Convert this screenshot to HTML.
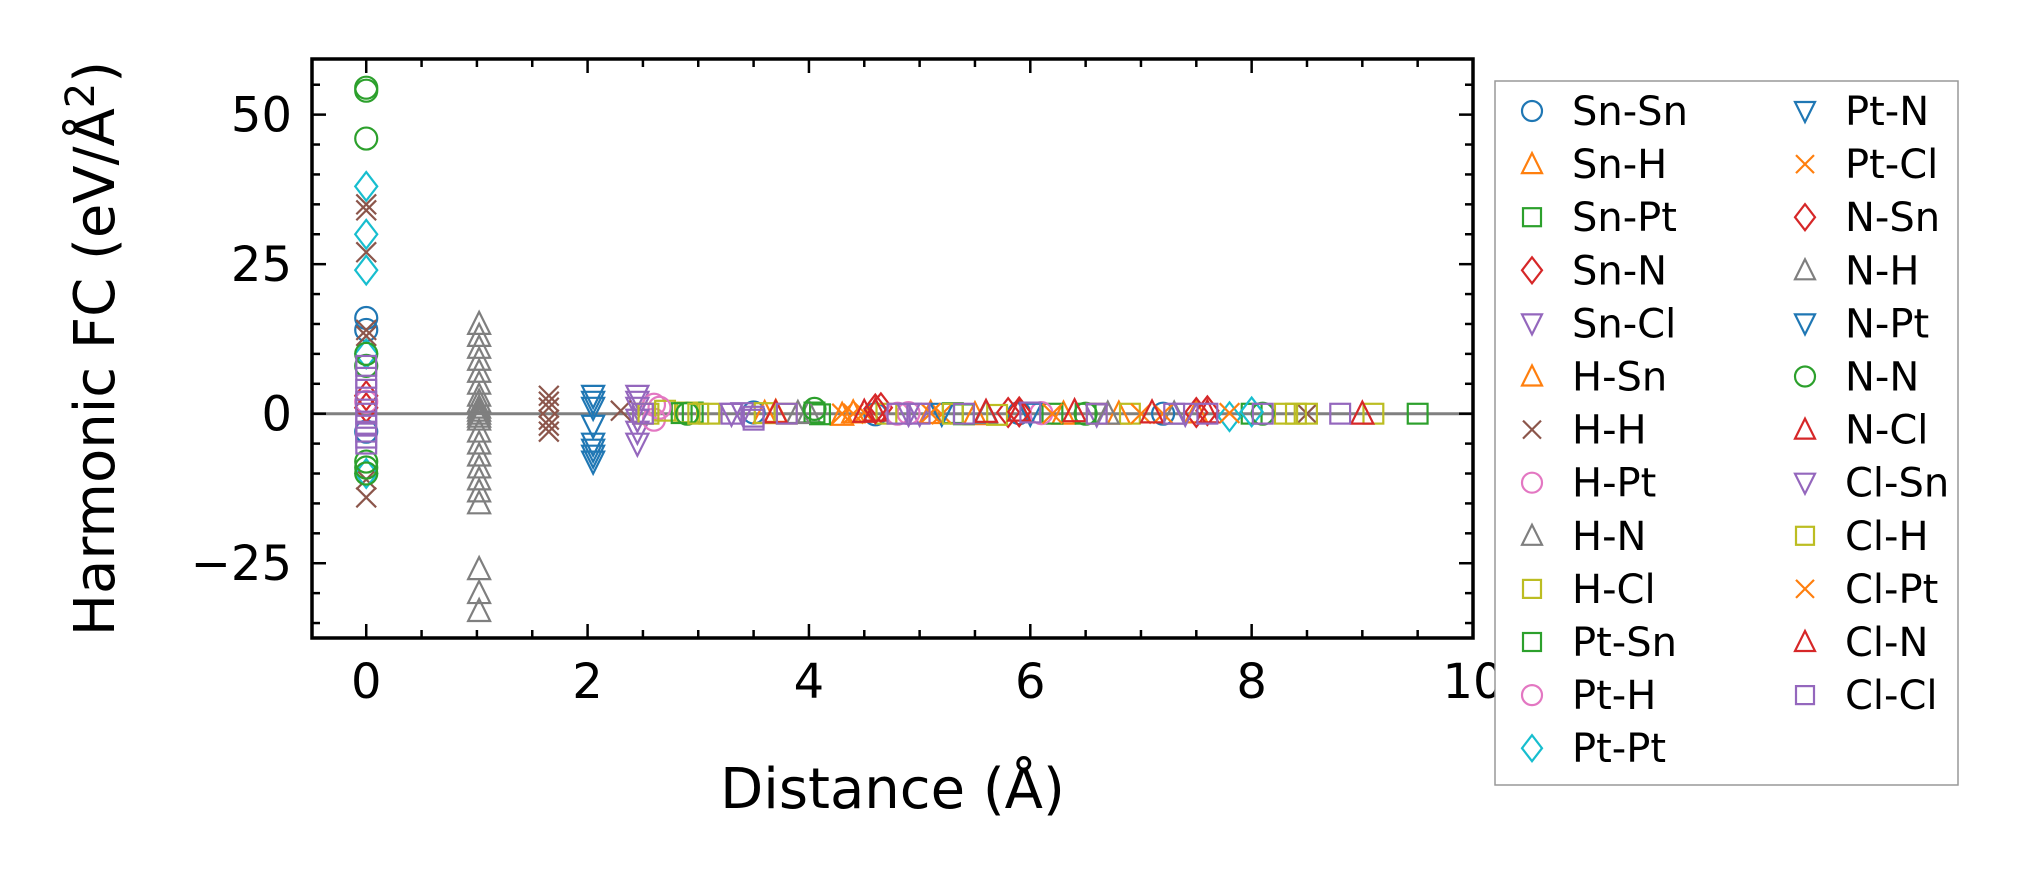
<!DOCTYPE html>
<html><head><meta charset="utf-8">
<style>
html,body{margin:0;padding:0;background:#fff;}
svg{display:block;font-family:"DejaVu Sans","Liberation Sans",sans-serif;}
</style></head>
<body>
<svg id="chart" width="2017" height="883" viewBox="0 0 2017 883" xmlns="http://www.w3.org/2000/svg">
<g id="plot"></g>
<g id="axes"></g>
<g id="legend"></g>
</svg>
<script>
const xTicks = [0, 2, 4, 6, 8, 10];
const yTicks = [-25, 0, 25, 50];
const seriesNames = ["Sn-Sn","Sn-H","Sn-Pt","Sn-N","Sn-Cl","H-Sn","H-H","H-Pt","H-N","H-Cl","Pt-Sn","Pt-H","Pt-Pt","Pt-N","Pt-Cl","N-Sn","N-H","N-Pt","N-N","N-Cl","Cl-Sn","Cl-H","Cl-Pt","Cl-N","Cl-Cl"];
const seriesColors = ["#1f77b4","#ff7f0e","#2ca02c","#d62728","#9467bd","#ff7f0e","#8c564b","#e377c2","#7f7f7f","#bcbd22","#2ca02c","#e377c2","#17becf","#1f77b4","#ff7f0e","#d62728","#7f7f7f","#1f77b4","#2ca02c","#d62728","#9467bd","#bcbd22","#ff7f0e","#d62728","#9467bd"];
const seriesMarkers = ["o","^","s","D","v","^","x","o","^","s","s","o","D","v","x","D","^","v","o","^","v","s","x","^","s"];
// distances per series
const seriesX = [
 [0,0,0,3.5,4.6,5.9,7.2],
 [3.7,4.3,5.1,6.3,7.5],
 [2.95,4.1,5.3,6.2,9.5],
 [0,4.65,5.8,7.6],
 [2.45,2.45,2.45,2.45,3.4,5.0,6.6],
 [3.6,4.4,5.5,6.8],
 [0,0,0,0,0,0,0,1.65,1.65,1.65,1.65,1.65,1.65,2.3,8.5],
 [2.6,2.6,4.9],
 [1.02,1.02,1.02,1.02,1.02,1.02,1.02,1.02,1.02,1.02,1.02,1.02,1.02,1.02,1.02,1.02,1.02,1.02,1.02,1.02,4.0,5.6,7.3],
 [2.5,2.7,2.9,3.1,3.6,4.7,5.7,6.9,8.3,8.5,9.1],
 [2.85,4.05,5.4,6.5,8.0],
 [0,2.65,4.8,6.1],
 [0,0,0,0,0,7.8,8.0],
 [2.05,2.05,2.05,2.05,2.05,2.05,6.0],
 [4.3,4.5,5.2,7.0,7.8],
 [0,4.6,5.9,7.5],
 [1.02,1.02,1.02,3.9,6.7],
 [2.05,2.05,5.2],
 [0,0,0,0,0,0,0,0,2.9,4.05,6.5,8.1],
 [4.6,5.6,6.4,7.6],
 [2.45,2.45,3.3,4.9,7.4],
 [2.55,3.0,3.8,5.3,6.6,8.4],
 [4.4,5.1,6.2,7.2],
 [3.7,4.5,5.9,7.1,9.0],
 [0,0,0,0,0,0,0,0,0,2.5,3.3,3.5,3.5,3.8,4.8,5.0,5.4,6.0,6.6,7.3,7.6,8.1,8.8]
];
// harmonic FC values per series (eV/Å²)
const seriesY = [
 [16,14,-3,0.2,-0.1,0.1,0],
 [0.3,-0.2,0.1,0,0.2],
 [0.2,-0.1,0.1,0,0],
 [3,1,0.2,0.5],
 [3,2,-3,-5,0.1,0,-0.1],
 [0.1,0.2,-0.1,0],
 [35,34,27,14,13,-14,-11,3,2,1,-1,-2,-3,0.5,0],
 [1.5,-1,0.1],
 [15,13,11,9,7,5,3,1,-1,-3,-5,-7,-9,-11,-13,-15,-26,-30,-33,0,0.2,0.1,0],
 [0,0.5,0.2,0,0.1,0,-0.2,0,0,0,0],
 [0.1,0.2,-0.1,0,0],
 [2,1,0,0.1],
 [38,30,24,10,-10,-0.5,0.3],
 [3,2,-2,-5,-7,-8,0],
 [0,0.2,-0.1,0,0.1],
 [1,0.8,0.3,0.2],
 [0.5,-0.5,2,0.1,0],
 [-6,1,0],
 [54,54.5,46,10,8,-8,-9,-10,0,0.8,0,0],
 [0.5,0.3,0.4,0.2],
 [1,-1,0,0,0],
 [0,0,0,0,0,0],
 [0,0.1,0,0],
 [0.2,0.3,0.5,0.2,0],
 [8,6,4,2,0,-2,-4,-5,-3,0,0,-0.5,-1,0,0,0,0,0.2,0,0,0,0,0]
];

const NS = "http://www.w3.org/2000/svg";
const L = 312, R = 1473, T = 59, B = 638;
const X0 = -0.49, X1 = 10, Y0 = -37.5, Y1 = 59.3;
const xs = v => L + (v - X0) / (X1 - X0) * (R - L);
const ys = v => B - (v - Y0) / (Y1 - Y0) * (B - T);
function mk(tag, attrs, parent) {
  const e = document.createElementNS(NS, tag);
  for (const k in attrs) e.setAttribute(k, attrs[k]);
  parent.appendChild(e);
  return e;
}
function marker(g, type, cx, cy, color, s) {
  const st = {fill:"none", stroke:color, "stroke-width":2.2};
  let e;
  if (type === "o") e = mk("circle", Object.assign({cx, cy, r:s*0.5}, st), g);
  else if (type === "s") e = mk("rect", Object.assign({x:cx-s*0.45, y:cy-s*0.45, width:s*0.9, height:s*0.9}, st), g);
  else if (type === "^") e = mk("polygon", Object.assign({points:`${cx},${cy-s*0.55} ${cx-s*0.5},${cy+s*0.45} ${cx+s*0.5},${cy+s*0.45}`}, st), g);
  else if (type === "v") e = mk("polygon", Object.assign({points:`${cx},${cy+s*0.55} ${cx-s*0.5},${cy-s*0.45} ${cx+s*0.5},${cy-s*0.45}`}, st), g);
  else if (type === "D") e = mk("polygon", Object.assign({points:`${cx},${cy-s*0.65} ${cx+s*0.5},${cy} ${cx},${cy+s*0.65} ${cx-s*0.5},${cy}`}, st), g);
  else { e = mk("path", Object.assign({d:`M${cx-s*0.45},${cy-s*0.45}L${cx+s*0.45},${cy+s*0.45}M${cx-s*0.45},${cy+s*0.45}L${cx+s*0.45},${cy-s*0.45}`}, st), g); }
  return e;
}
const plot = document.getElementById("plot");
const axes = document.getElementById("axes");
const legend = document.getElementById("legend");

const zl = mk("line", {x1:L, x2:R, y1:ys(0), y2:ys(0), stroke:"#808080", "stroke-width":3}, plot);



seriesNames.forEach((name, i) => {
  const g = mk("g", {}, plot);
  
  
  seriesX[i].forEach((x, j) => {
    const m = marker(g, seriesMarkers[i], xs(x), ys(seriesY[i][j]), seriesColors[i], 22);
    
    
  });
});

const fr = mk("rect", {x:L, y:T, width:R-L, height:B-T, fill:"none", stroke:"#000", "stroke-width":3.5}, axes);



for (let v = 0; v <= 10.001; v += 0.5) {
  const major = Math.abs(v - Math.round(v/2)*2) < 1e-6;
  const len = major ? 14 : 8;
  const x = xs(v);
  const t1 = mk("line", {x1:x, x2:x, y1:B, y2:B-len, stroke:"#000", "stroke-width":2.5}, axes);
  
  
  const t2 = mk("line", {x1:x, x2:x, y1:T, y2:T+len, stroke:"#000", "stroke-width":2.5}, axes);
  
  
}
xTicks.forEach(v => {
  const t = mk("text", {x:xs(v), y:B+60, "text-anchor":"middle", "font-size":48, fill:"#000"}, axes);
  t.textContent = String(v);
  
  
});
for (let v = -35; v <= 55; v += 5) {
  const major = v % 25 === 0;
  const len = major ? 14 : 8;
  const y = ys(v);
  const t1 = mk("line", {x1:L, x2:L+len, y1:y, y2:y, stroke:"#000", "stroke-width":2.5}, axes);
  
  
  const t2 = mk("line", {x1:R, x2:R-len, y1:y, y2:y, stroke:"#000", "stroke-width":2.5}, axes);
  
  
}
yTicks.forEach(v => {
  const t = mk("text", {x:L-20, y:ys(v)+17, "text-anchor":"end", "font-size":48, fill:"#000"}, axes);
  t.textContent = v < 0 ? "\u2212" + Math.abs(v) : String(v);
  
  
});
const xt = mk("text", {x:(L+R)/2, y:808, "text-anchor":"middle", "font-size":56, fill:"#000"}, axes);
xt.textContent = "Distance (Å)";


const yt = mk("text", {x:0, y:0, "text-anchor":"middle", "font-size":56, fill:"#000", transform:`translate(114,${(T+B)/2}) rotate(-90)`}, axes);
yt.innerHTML = 'Harmonic FC (eV/Å<tspan dy="-20" font-size="40">2</tspan><tspan dy="20">)</tspan>';



const lb = mk("rect", {x:1495, y:81, width:463, height:704, fill:"#fff", stroke:"#999", "stroke-width":1.5}, legend);


seriesNames.forEach((name, i) => {
  const col = i < 13 ? 0 : 1;
  const row = i < 13 ? i : i - 13;
  const y = 111 + row * 53.1;
  const mx = col ? 1805 : 1532;
  const g = mk("g", {}, legend);
  
  
  marker(g, seriesMarkers[i], mx, y, seriesColors[i], 20);
  const t = mk("text", {x:mx + 40, y:y + 14, "font-size":40, fill:"#000"}, g);
  t.textContent = name;
});
</script>
</body></html>
